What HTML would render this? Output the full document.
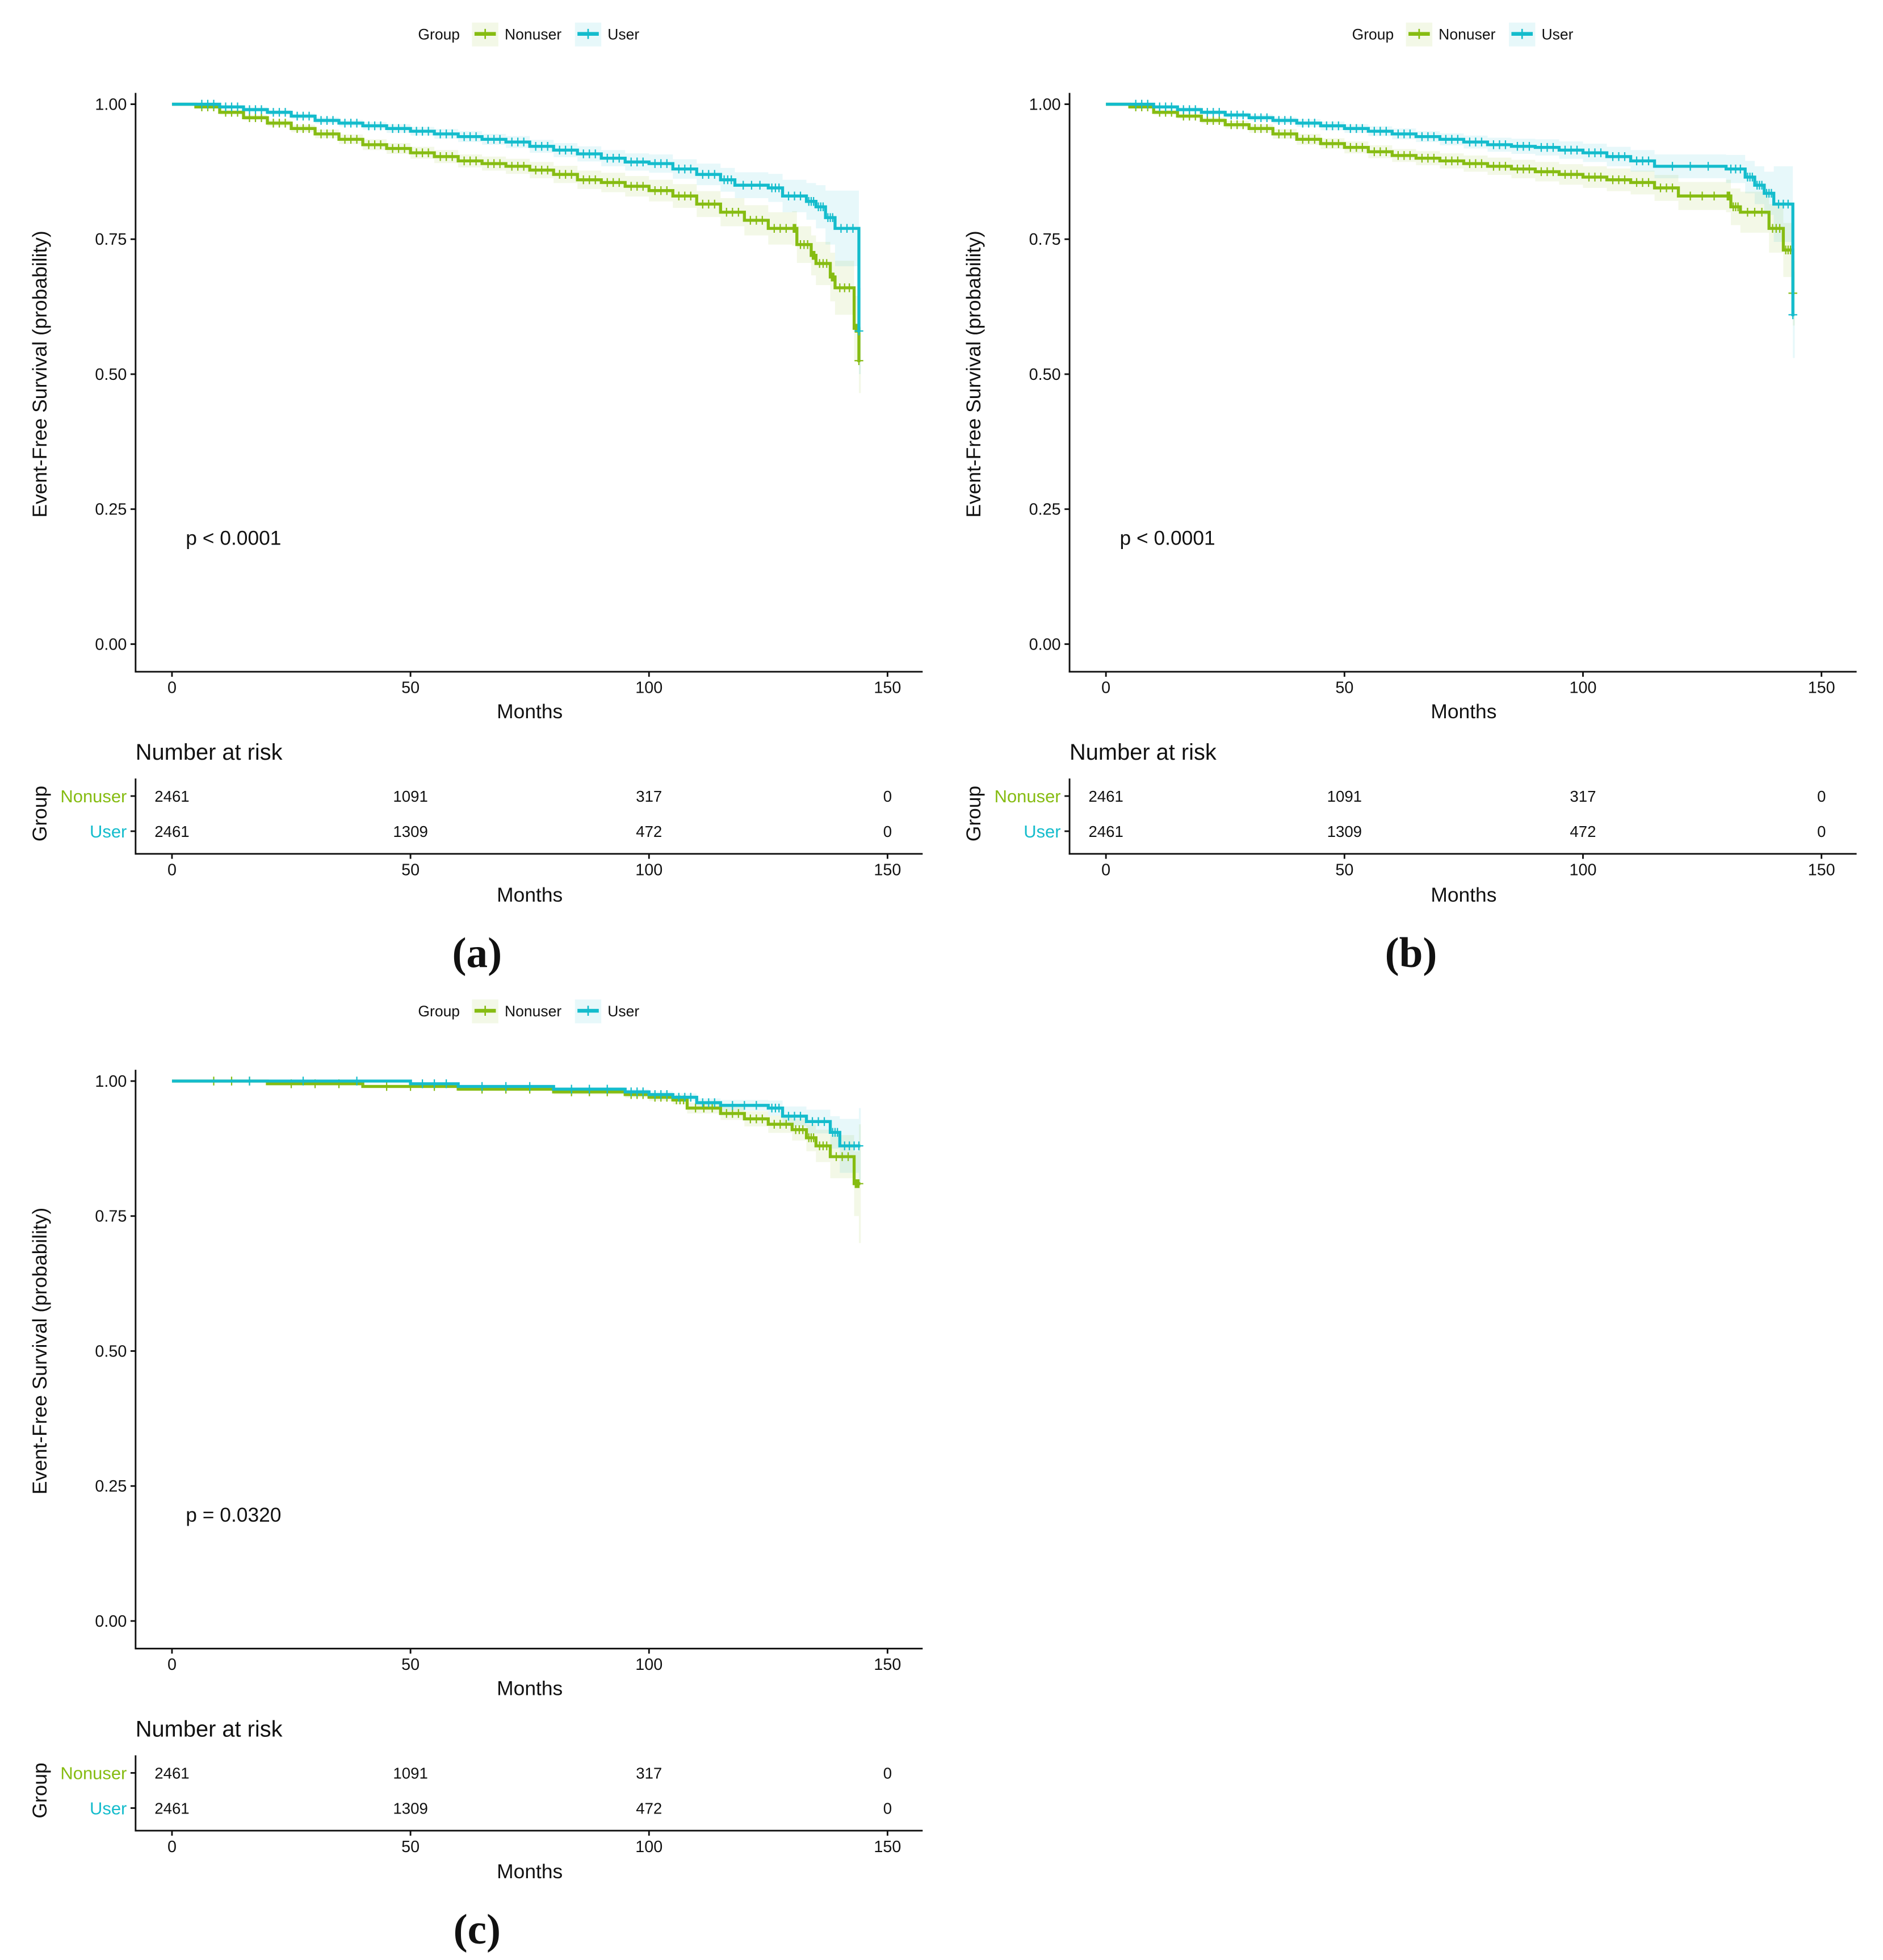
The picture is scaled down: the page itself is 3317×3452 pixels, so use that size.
<!DOCTYPE html>
<html><head><meta charset="utf-8"><style>
html,body{margin:0;padding:0;background:#fff}
svg{display:block}
text{font-family:"Liberation Sans",sans-serif;fill:#111}
</style></head><body>
<svg id="fig" xmlns="http://www.w3.org/2000/svg" width="3317" height="3452" viewBox="0 0 1500 1561" preserveAspectRatio="none"></svg>
<script>
// ===== data =====
const xTicks = [0, 50, 100, 150];
const yTicks = [0, 0.25, 0.5, 0.75, 1.0];
const yTickLabels = ["0.00", "0.25", "0.50", "0.75", "1.00"];
const groups = ["Nonuser", "User"];
const riskTimes = [0, 50, 100, 150];
const riskNonuser = [2461, 1091, 317, 0];
const riskUser = [2461, 1309, 472, 0];
const pValues = ["p < 0.0001", "p < 0.0001", "p = 0.0320"];
const panelLabels = ["(a)", "(b)", "(c)"];

const aNonT = [0,5,10,15,20,25,30,35,40,45,50,55,60,65,70,75,80,85,90,95,100,105,110,115,120,125,130,131,134,135,138,139,143,144];
const aNonS = [1,0.995,0.985,0.975,0.965,0.955,0.945,0.935,0.925,0.918,0.91,0.903,0.895,0.89,0.885,0.878,0.87,0.86,0.855,0.848,0.84,0.83,0.815,0.80,0.785,0.77,0.77,0.74,0.72,0.705,0.68,0.66,0.585,0.525];
const aUseT = [0,5,10,15,20,25,30,35,40,45,50,55,60,65,70,75,80,85,90,95,100,105,110,115,118,125,128,133,135,137,139,144];
const aUseS = [1,1,0.995,0.99,0.985,0.978,0.97,0.965,0.96,0.955,0.95,0.945,0.94,0.935,0.93,0.922,0.915,0.908,0.90,0.893,0.89,0.88,0.87,0.86,0.85,0.845,0.83,0.82,0.81,0.79,0.77,0.58];
const aNonCI = [0,0,0.004,0.005,0.006,0.007,0.008,0.009,0.01,0.01,0.011,0.012,0.012,0.013,0.014,0.015,0.016,0.017,0.018,0.019,0.02,0.022,0.024,0.026,0.028,0.03,0.032,0.034,0.037,0.04,0.045,0.05,0.06,0.06];
const aUseCI = [0,0,0.003,0.004,0.004,0.005,0.006,0.006,0.007,0.008,0.008,0.009,0.01,0.01,0.011,0.012,0.013,0.014,0.015,0.016,0.017,0.018,0.02,0.022,0.024,0.026,0.03,0.034,0.04,0.05,0.07,0.08];

const bNonT = [0,5,10,15,20,25,30,35,40,45,50,55,60,65,70,75,80,85,90,95,100,105,110,115,120,130,131,133,139,142,144];
const bNonS = [1,0.995,0.985,0.978,0.97,0.962,0.955,0.945,0.935,0.927,0.92,0.912,0.905,0.9,0.895,0.89,0.885,0.88,0.875,0.87,0.865,0.86,0.855,0.845,0.83,0.83,0.81,0.80,0.77,0.73,0.65];
const bUseT = [0,5,10,15,20,25,30,35,40,45,50,55,60,65,70,75,80,85,90,95,100,105,110,115,130,134,136,138,140,144];
const bUseS = [1,1,0.995,0.99,0.985,0.98,0.975,0.97,0.965,0.96,0.955,0.95,0.945,0.94,0.935,0.93,0.925,0.922,0.92,0.915,0.91,0.903,0.895,0.885,0.88,0.865,0.85,0.835,0.815,0.61];
const bNonCI = [0,0,0.004,0.005,0.006,0.007,0.008,0.009,0.01,0.01,0.011,0.012,0.012,0.013,0.014,0.015,0.016,0.017,0.018,0.019,0.02,0.021,0.022,0.024,0.026,0.03,0.034,0.038,0.045,0.05,0.06];
const bUseCI = [0,0,0.003,0.004,0.004,0.005,0.006,0.006,0.007,0.008,0.008,0.009,0.01,0.01,0.011,0.012,0.013,0.014,0.015,0.016,0.017,0.018,0.02,0.022,0.026,0.03,0.035,0.04,0.07,0.08];

const cNonT = [0,5,20,40,60,80,95,100,105,108,115,120,125,130,133,135,138,143,144];
const cNonS = [1,1,0.995,0.99,0.985,0.98,0.975,0.97,0.965,0.95,0.94,0.93,0.92,0.91,0.895,0.88,0.86,0.81,0.81];
const cUseT = [0,5,50,60,80,95,100,105,110,115,125,128,133,138,140,144];
const cUseS = [1,1,0.995,0.99,0.985,0.98,0.975,0.97,0.96,0.955,0.95,0.935,0.925,0.905,0.88,0.88];
const cNonCI = [0,0,0.002,0.003,0.004,0.005,0.006,0.007,0.008,0.01,0.012,0.014,0.016,0.02,0.025,0.03,0.04,0.06,0.11];
const cUseCI = [0,0,0.002,0.003,0.004,0.005,0.006,0.007,0.008,0.01,0.014,0.018,0.022,0.03,0.05,0.07];

const panels = [
  {dx:0, dy:0, sets:[[aNonT,aNonS,aNonCI],[aUseT,aUseS,aUseCI]]},
  {dx:744, dy:0, sets:[[bNonT,bNonS,bNonCI],[bUseT,bUseS,bUseCI]]},
  {dx:0, dy:778, sets:[[cNonT,cNonS,cNonCI],[cUseT,cUseS,cUseCI]]}
];
const colors = ["#86BC12", "#14BCCC"];
const fills = ["rgba(134,188,18,0.10)", "rgba(20,188,204,0.10)"];

// ===== drawing =====
const NS = "http://www.w3.org/2000/svg";
const svg = document.getElementById("fig");
function mk(tag, attrs, parent, txt) {
  const e = document.createElementNS(NS, tag);
  for (const k in attrs) e.setAttribute(k, attrs[k]);
  if (txt !== undefined) e.textContent = txt;
  parent.appendChild(e);
  return e;
}
const xs = t => 137 + (t / 150) * 570;
const ys = s => 513 - s * 430;

panels.forEach((p, pi) => {
  const g = mk("g", {transform: `translate(${p.dx},${p.dy})`}, svg);
  
  

  // legend
  const lg = mk("g", {}, g);
  
  
  mk("text", {x:333, y:31.5, "font-size":12}, lg, "Group");
  const keyX = [376, 458], labX = [402, 484];
  groups.forEach((gname, gi) => {
    const ke = mk("g", {}, lg);
    
    
    mk("rect", {x:keyX[gi], y:18, width:21, height:19, fill:fills[gi]}, ke);
    mk("line", {x1:keyX[gi]+2, x2:keyX[gi]+19, y1:27, y2:27, stroke:colors[gi], "stroke-width":3}, ke);
    mk("line", {x1:keyX[gi]+10.5, x2:keyX[gi]+10.5, y1:23, y2:31, stroke:colors[gi], "stroke-width":1.2}, ke);
    mk("text", {x:labX[gi], y:31.5, "font-size":12}, ke, gname);
  });

  // CI bands and curves
  p.sets.forEach((set, gi) => {
    const [T, S, C] = set;
    let up = "", lo = "";
    for (let i = 0; i < T.length; i++) {
      const tEnd = i + 1 < T.length ? T[i + 1] : T[i] + 0.4;
      up += `${i ? "L" : "M"}${xs(T[i])},${ys(Math.min(1, S[i] + C[i]))}L${xs(tEnd)},${ys(Math.min(1, S[i] + C[i]))}`;
      lo = `L${xs(tEnd)},${ys(S[i] - C[i])}L${xs(T[i])},${ys(S[i] - C[i])}` + lo;
    }
    const band = mk("path", {d: up + lo + "Z", fill: fills[gi]}, g);
    
    
  });
  p.sets.forEach((set, gi) => {
    const [T, S] = set;
    let d = `M${xs(T[0])},${ys(S[0])}`;
    for (let i = 1; i < T.length; i++) d += `H${xs(T[i])}V${ys(S[i])}`;
    d += `H${xs(T[T.length - 1] + 0.3)}`;
    const path = mk("path", {d, fill:"none", stroke:colors[gi], "stroke-width":2.4}, g);
    
    
    let cd = "";
    for (let i = 1; i < T.length; i++) {
      for (let k = 0; k < 3; k++) {
        const t = T[i - 1] + (T[i] - T[i - 1]) * (k + 1) / 4;
        if (t < 5) continue;
        cd += `M${xs(t)},${ys(S[i - 1]) - 3.5}v7`;
      }
    }
    cd += `M${xs(T[T.length - 1])},${ys(S[S.length - 1]) - 3.5}v7M${xs(T[T.length - 1]) - 3.5},${ys(S[S.length - 1])}h7`;
    const cens = mk("path", {d: cd, stroke: colors[gi], "stroke-width": 1, fill: "none"}, g);
    
    
  });

  // axes main
  const ax = mk("g", {stroke:"#111", "stroke-width":1.3, fill:"none"}, g);
  
  
  mk("line", {x1:108, x2:108, y1:74, y2:535.6}, ax);
  mk("line", {x1:107.4, x2:735, y1:535, y2:535}, ax);
  yTicks.forEach((v, i) => {
    mk("line", {x1:104, x2:108, y1:ys(v), y2:ys(v)}, ax);
    const t = mk("text", {x:101, y:ys(v) + 4.5, "font-size":13, "text-anchor":"end", stroke:"none"}, g, yTickLabels[i]);
    
    
  });
  xTicks.forEach(v => {
    mk("line", {x1:xs(v), x2:xs(v), y1:535, y2:539}, ax);
    const t = mk("text", {x:xs(v), y:552, "font-size":13, "text-anchor":"middle"}, g, String(v));
    
    
  });
  const xt = mk("text", {x:422, y:572, "font-size":16, "text-anchor":"middle"}, g, "Months");
  
  
  const yt = mk("text", {x:0, y:0, "font-size":16, "text-anchor":"middle", transform:"translate(37,298) rotate(-90)"}, g, "Event-Free Survival (probability)");
  
  
  const pv = mk("text", {x:148, y:434, "font-size":16}, g, pValues[pi]);
  
  

  // risk table
  const rt = mk("g", {}, g);
  
  
  mk("text", {x:108, y:605, "font-size":18}, rt, "Number at risk");
  mk("line", {x1:108, x2:108, y1:620, y2:680.6, stroke:"#111", "stroke-width":1.3}, rt);
  mk("line", {x1:107.4, x2:735, y1:680, y2:680, stroke:"#111", "stroke-width":1.3}, rt);
  const rowY = [634, 662];
  [riskNonuser, riskUser].forEach((row, gi) => {
    mk("line", {x1:104, x2:108, y1:rowY[gi], y2:rowY[gi], stroke:"#111", "stroke-width":1.3}, rt);
    const l = mk("text", {x:101, y:rowY[gi] + 5, "font-size":14, "text-anchor":"end", style:"fill:" + colors[gi]}, rt, groups[gi]);
    
    
    row.forEach((n, j) => {
      const c = mk("text", {x:xs(riskTimes[j]), y:rowY[gi] + 4.5, "font-size":12.5, "text-anchor":"middle"}, rt, String(n));
      
      
    });
  });
  xTicks.forEach(v => {
    mk("line", {x1:xs(v), x2:xs(v), y1:680, y2:684, stroke:"#111", "stroke-width":1.3}, rt);
    mk("text", {x:xs(v), y:697, "font-size":13, "text-anchor":"middle"}, rt, String(v));
  });
  mk("text", {x:422, y:718, "font-size":16, "text-anchor":"middle"}, rt, "Months");
  mk("text", {x:0, y:0, "font-size":16, "text-anchor":"middle", transform:"translate(37,648) rotate(-90)"}, rt, "Group");

  const pl = mk("text", {x:380, y:770, "font-size":34, "text-anchor":"middle", style:"font-family:'Liberation Serif',serif;font-weight:bold"}, g, panelLabels[pi]);
  
  
});
</script>
</body></html>
